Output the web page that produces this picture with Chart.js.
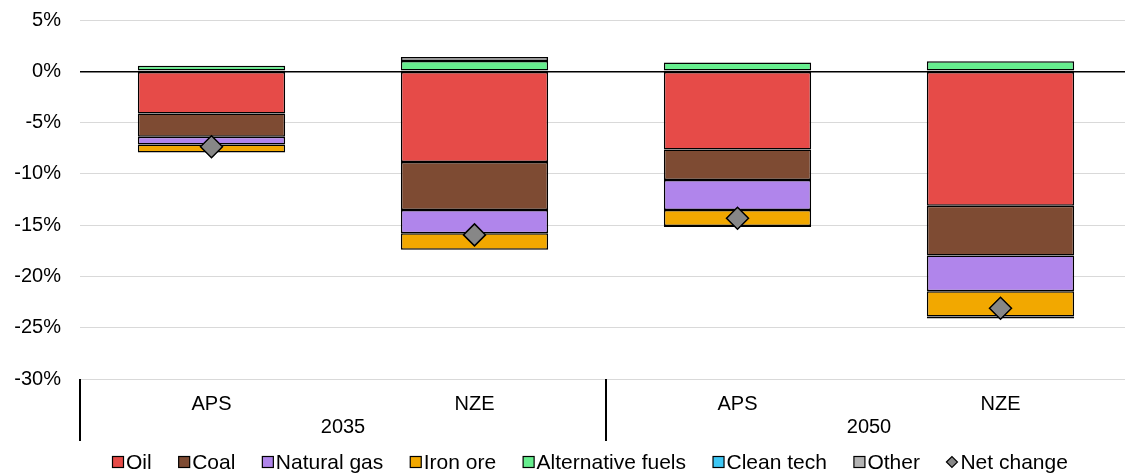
<!DOCTYPE html>
<html>
<head>
<meta charset="utf-8">
<script src="https://cdn.jsdelivr.net/npm/chart.js@4/dist/chart.umd.min.js"></script>
<style>
  html, body { margin: 0; padding: 0; background: #fff; overflow: hidden; }
  #wrap { width: 1125px; height: 473px; overflow: hidden; }
  #chart { display: block; }
</style>
</head>
<body>
<div id="wrap"><canvas id="chart" width="1132" height="473"></canvas></div>
<script>
// Scenario categories and the year each pair belongs to
const categories = ['APS', 'NZE', 'APS', 'NZE'];
const years = ['2035', '2050'];

// Contribution to change, in percent
const oil         = [-4.12, -8.85, -7.62, -13.1];
const coal        = [-2.27, -4.67, -2.98, -4.85];
const naturalGas  = [-0.74, -2.27, -2.92, -3.5];
const ironOre     = [-0.78, -1.62, -1.56, -2.45];
const altFuels    = [0.55, 1.0, 0.85, 0.97];
const cleanTech   = [0, 0, 0, 0];
const other       = [0, 0.4, -0.1, -0.2];
const netChange   = [-7.36, -15.95, -14.33, -23.1];

// Y axis range and tick step
const yMin = -30, yMax = 5, yStep = 5;

const FONT = 'Liberation Sans, Arial, sans-serif';

const seriesDefs = [
  { label: 'Oil', data: oil, color: '#E64B48' },
  { label: 'Coal', data: coal, color: '#7E4B33' },
  { label: 'Natural gas', data: naturalGas, color: '#B085EB' },
  { label: 'Iron ore', data: ironOre, color: '#F2A800' },
  { label: 'Alternative fuels', data: altFuels, color: '#66EE8E' },
  { label: 'Clean tech', data: cleanTech, color: '#3DC7F4' },
  { label: 'Other', data: other, color: '#B3B3B3' }
];

const barSets = seriesDefs.map(s => ({
  type: 'bar',
  label: s.label,
  data: s.data,
  backgroundColor: s.color,
  borderColor: '#000',
  borderWidth: 1.5,
  borderSkipped: false,
  barPercentage: 0.56,
  categoryPercentage: 1.0,
  order: 2
}));

const netSet = {
  type: 'line',
  label: 'Net change',
  data: netChange,
  showLine: false,
  pointStyle: 'rectRot',
  pointRadius: 11,
  pointHoverRadius: 11,
  pointBackgroundColor: '#878787',
  pointBorderColor: '#000',
  pointBorderWidth: 1.5,
  backgroundColor: '#878787',
  borderColor: '#000',
  order: 0
};

// Year labels and group separators under the category labels
const groupAxisPlugin = {
  id: 'groupAxis',
  afterDraw(chart) {
    const { ctx, chartArea, scales } = chart;
    const x = scales.x;
    const top = chartArea.bottom;
    const bottom = top + 62;
    const bounds = [chartArea.left,
      (x.getPixelForValue(1) + x.getPixelForValue(2)) / 2,
      chartArea.right];
    ctx.save();
    ctx.strokeStyle = '#000';
    ctx.lineWidth = 2;
    bounds.forEach(bx => {
      ctx.beginPath();
      ctx.moveTo(bx, top);
      ctx.lineTo(bx, bottom);
      ctx.stroke();
    });
    ctx.fillStyle = '#000';
    ctx.font = '20px ' + FONT;
    ctx.textAlign = 'center';
    ctx.textBaseline = 'middle';
    years.forEach((yr, i) => {
      const cx = (x.getPixelForValue(i * 2) + x.getPixelForValue(i * 2 + 1)) / 2;
      ctx.fillText(yr, cx, top + 48);
    });
    ctx.restore();
  }
};

// Legend row along the bottom
const legendPlugin = {
  id: 'bottomLegend',
  afterDraw(chart) {
    const { ctx } = chart;
    const y = 462;
    let cx = 112;
    ctx.save();
    ctx.font = '21px ' + FONT;
    ctx.textBaseline = 'middle';
    ctx.textAlign = 'left';
    chart.data.datasets.forEach(ds => {
      if (ds.type === 'line') {
        ctx.beginPath();
        ctx.moveTo(cx, y);
        ctx.lineTo(cx + 5.5, y - 5.5);
        ctx.lineTo(cx + 11, y);
        ctx.lineTo(cx + 5.5, y + 5.5);
        ctx.closePath();
        ctx.fillStyle = ds.pointBackgroundColor;
        ctx.fill();
        ctx.lineWidth = 1.2;
        ctx.strokeStyle = '#000';
        ctx.stroke();
      } else {
        ctx.fillStyle = ds.backgroundColor;
        ctx.fillRect(cx + 0.5, y - 5.5, 11, 11);
        ctx.lineWidth = 1.2;
        ctx.strokeStyle = '#000';
        ctx.strokeRect(cx + 0.5, y - 5.5, 11, 11);
      }
      ctx.fillStyle = '#000';
      ctx.fillText(ds.label, cx + 14, y + 1);
      cx += 14 + ctx.measureText(ds.label).width + 26.5;
    });
    ctx.restore();
  }
};

new Chart(document.getElementById('chart'), {
  data: {
    labels: categories,
    datasets: [...barSets, netSet]
  },
  options: {
    responsive: false,
    maintainAspectRatio: false,
    animation: false,
    devicePixelRatio: 1,
    layout: { autoPadding: false, padding: { top: 20, right: 0, left: 0, bottom: 0 } },
    plugins: {
      legend: { display: false },
      tooltip: { enabled: false }
    },
    scales: {
      x: {
        stacked: true,
        grid: { display: false },
        border: { display: false },
        ticks: { color: '#000', font: { family: FONT, size: 20 }, padding: 5 },
        afterFit(scale) { scale.height = 94; }
      },
      y: {
        stacked: true,
        min: yMin,
        max: yMax,
        border: { display: false },
        grid: {
          drawTicks: false,
          color: c => (c.tick && c.tick.value === 0) ? '#000' : '#D9D9D9',
          lineWidth: c => (c.tick && c.tick.value === 0) ? 1.5 : 1
        },
        ticks: {
          stepSize: yStep,
          padding: 19,
          color: '#000',
          font: { family: FONT, size: 20 },
          callback: v => v + '%'
        },
        afterFit(scale) {
          scale.width = 80;
          scale.paddingTop = 0;
          scale.paddingBottom = 0;
        }
      }
    }
  },
  plugins: [groupAxisPlugin, legendPlugin]
});
</script>
</body>
</html>
